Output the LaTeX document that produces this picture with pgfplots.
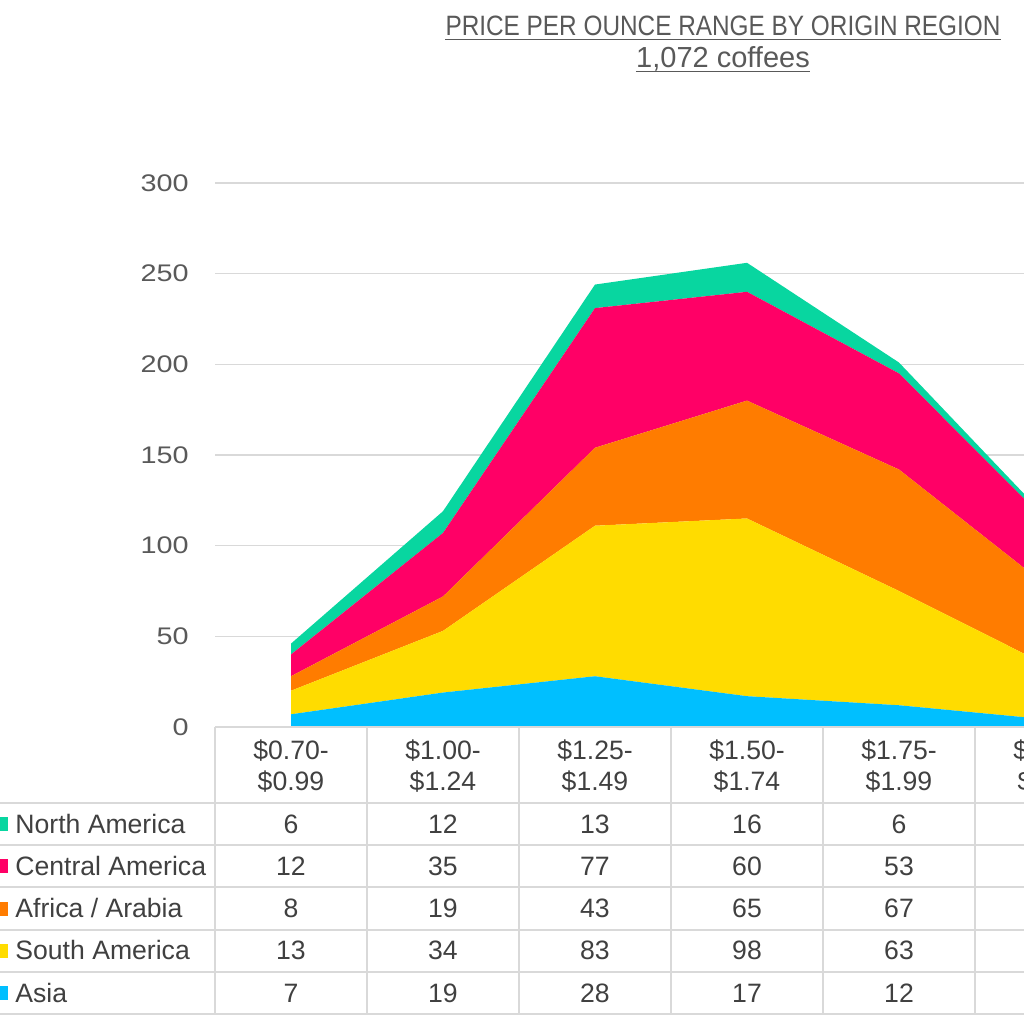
\documentclass[border=0pt]{standalone}
\usepackage{pgfplots}
\usepackage{pgfplotstable}
\pgfplotsset{compat=1.18}
\usepackage{fontspec}
\setmainfont{Liberation Sans}
\newfontfamily\tickfont[FakeStretch=1.2]{Liberation Sans}
\newfontfamily\titlefont[FakeStretch=0.87]{Liberation Sans}
\definecolor{cNA}{HTML}{08D6A0}
\definecolor{cCA}{HTML}{FF0066}
\definecolor{cAA}{HTML}{FF7C00}
\definecolor{cSA}{HTML}{FFDC00}
\definecolor{cAS}{HTML}{00BFFF}
\definecolor{gridc}{HTML}{D9D9D9}
\definecolor{txt}{HTML}{404040}
\definecolor{tickc}{HTML}{595959}

\pgfplotstableread{
x Asia SA AA CA NA
0 7 13 8 12 6
1 19 34 19 35 12
2 28 83 43 77 13
3 17 98 65 60 16
4 12 63 67 53 6
5 4 29 43 35 2
}\datatable

\begin{document}
\begin{tikzpicture}
\path[use as bounding box] (0pt,0pt) rectangle (512pt,-512pt);
\clip (0pt,0pt) rectangle (512pt,-512pt);
\begin{axis}[
  at={(107.5pt,-363.5pt)}, anchor=south west,
  width=404.5pt, height=272pt, scale only axis,
  xmin=-0.5, xmax=4.8224, ymin=0, ymax=300,
  clip=false,
  stack plots=y,
  axis line style={draw=none},
  xtick=\empty,
  ytick={0,50,...,300},
  ymajorgrids,
  grid style={color=gridc, line width=0.75pt},
  major tick length=0pt,
  /pgf/number format/assume math mode=true,
  yticklabel style={anchor=east, inner sep=0pt, xshift=-13pt, text=tickc,
    font=\tickfont\fontsize{12pt}{12pt}\selectfont},
]
\addplot[fill=cAS, draw=none] table[x=x,y=Asia]{\datatable} \closedcycle;
\addplot[fill=cSA, draw=none] table[x=x,y=SA]{\datatable} \closedcycle;
\addplot[fill=cAA, draw=none] table[x=x,y=AA]{\datatable} \closedcycle;
\addplot[fill=cCA, draw=none] table[x=x,y=CA]{\datatable} \closedcycle;
\addplot[fill=cNA, draw=none] table[x=x,y=NA]{\datatable} \closedcycle;
\end{axis}

\begin{scope}[x=0.5pt,y=0.5pt]
% title
\node[anchor=base, inner sep=0pt, text=tickc, font=\titlefont\fontsize{14pt}{14pt}\selectfont] (t1) at (723,-35) {PRICE PER OUNCE RANGE BY ORIGIN REGION};
\draw[tickc, line width=0.65pt] ([yshift=-2.2pt]t1.base west) -- ([yshift=-2.2pt]t1.base east);
\node[anchor=base, inner sep=0pt, text=tickc, font=\fontsize{14.5pt}{14.5pt}\selectfont] (t2) at (723,-67) {1,072 coffees};
\draw[tickc, line width=0.65pt] ([yshift=-2.2pt]t2.base west) -- ([yshift=-2.2pt]t2.base east);

% table grid
\draw[gridc, line width=1pt] (215,-727) -- (1030,-727);
\foreach \k in {0,...,5}{
  \draw[gridc, line width=1pt] (0,{-802.7-42.3*\k}) -- (1030,{-802.7-42.3*\k});
}
\foreach \k in {0,...,5}{
  \draw[gridc, line width=1pt] ({215+152*\k},-727) -- ({215+152*\k},-1014);
}
% header labels
\begin{scope}[every node/.style={text=txt, font=\fontsize{13.3pt}{13.3pt}\selectfont, inner sep=0pt}]
\foreach \lo/\hi [count=\i from 0] in {0.70/0.99,1.00/1.24,1.25/1.49,1.50/1.74,1.75/1.99,2.00/2.24}{
  \node[anchor=base] at ({291+152*\i},-759) {\$\lo-};
  \node[anchor=base] at ({291+152*\i},-790) {\$\hi};
}
\foreach \name/\col/\vals [count=\r from 0] in {
  {North America}/cNA/{6,12,13,16,6},
  {Central America}/cCA/{12,35,77,60,53},
  {Africa / Arabia}/cAA/{8,19,43,65,67},
  {South America}/cSA/{13,34,83,98,63},
  {Asia}/cAS/{7,19,28,17,12}}{
  \pgfmathsetmacro\cy{824+42.3*\r}
  \fill[\col] (-4,{-\cy+7}) rectangle (8,{-\cy-7});
  \node[anchor=base west] at (15,{-\cy-9}) {\name};
  \foreach \v [count=\k from 0] in \vals {
    \node[anchor=base] at ({291+152*\k},{-\cy-9}) {\v};
  }
}
\end{scope}
\end{scope}
\end{tikzpicture}
\end{document}
